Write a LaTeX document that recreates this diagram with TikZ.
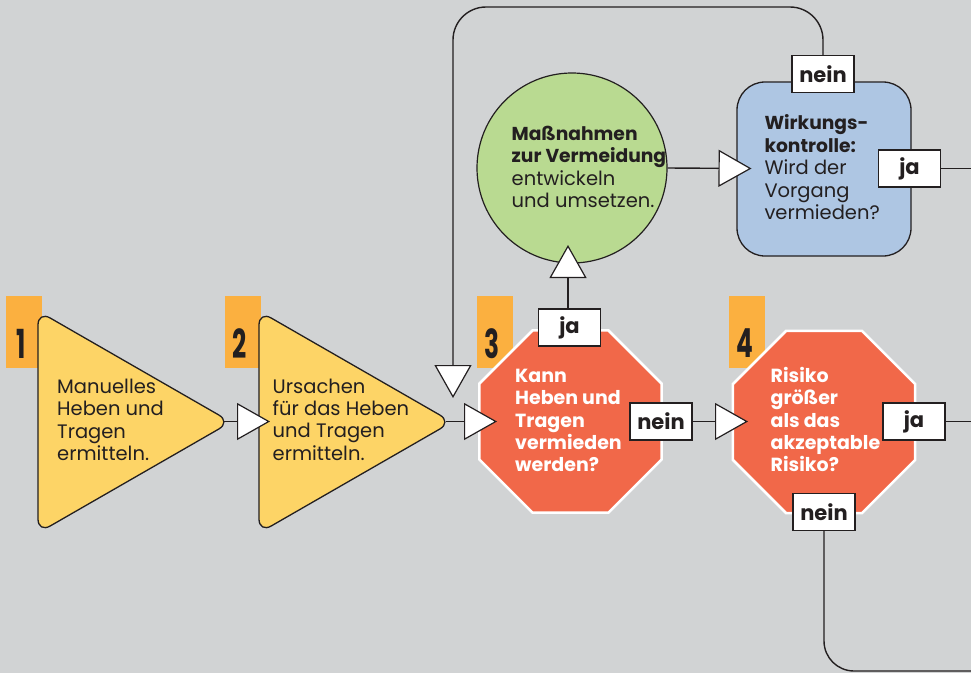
\documentclass[tikz,border=0pt]{standalone}
\usepackage{fontspec}
\usepackage{graphicx}
\setmainfont{Poppins}
\usetikzlibrary{arrows.meta,shapes.geometric}
\definecolor{bg}{HTML}{D1D3D4}
\definecolor{ink}{HTML}{231F20}
\definecolor{numorange}{HTML}{FBB040}
\definecolor{tri}{HTML}{FDD466}
\definecolor{oct}{HTML}{F16849}
\definecolor{grn}{HTML}{B9DA91}
\definecolor{blu}{HTML}{AEC6E3}
\newcommand{\bfline}[1]{{\bfseries\fontsize{18.7}{22.4}\selectfont #1}}
\begin{document}
\begin{tikzpicture}[x=1pt,y=-1pt,
  txt/.style={font=\fontsize{19.5}{22.4}\selectfont, text=ink, align=left, anchor=base west, inner sep=0pt},
  wtxt/.style={font=\bfseries\fontsize{19}{22.4}\selectfont, text=white, align=left, anchor=base west, inner sep=0pt},
  lbl/.style={draw=ink, fill=white, line width=1.3pt, minimum width=62pt, minimum height=37pt, inner sep=0pt, font=\bfseries\fontsize{21}{21}\selectfont, text=ink},
  numtxt/.style={font=\bfseries\fontsize{40}{40}\selectfont, text=ink, inner sep=0pt},
  numbox/.style={fill=numorange, minimum width=36pt, minimum height=72pt, inner sep=0pt},
  trishape/.style={fill=tri, draw=ink, line width=1.3pt, rounded corners=14pt},
  octshape/.style={regular polygon, regular polygon sides=8, minimum size=197.5pt, inner sep=0pt, fill=oct, draw=white, line width=2.5pt},
  conn/.style={draw=ink, line width=1.4pt},
  arr/.style={-{Triangle[length=33pt,width=37pt,fill=white,line width=1.2pt]}}
]
\useasboundingbox (0,0) rectangle (971,673);
\fill[bg] (0,0) rectangle (971,673);

% number boxes
\node[numbox] (n1box) at (24,332) {};
\node[numbox] (n2box) at (243,332) {};
\node[numbox] (n3box) at (495,332) {};
\node[numbox] (n4box) at (747,332) {};
\node[numtxt] (n1) at (21,343.5) {\scalebox{0.62}[1]{1}};
\node[numtxt] (n2) at (240,343.5) {\scalebox{0.62}[1]{2}};
\node[numtxt] (n3) at (492,343.5) {\scalebox{0.62}[1]{3}};
\node[numtxt] (n4) at (745,343.5) {\scalebox{0.62}[1]{4}};

% triangles
\draw[trishape] (38,422) -- (38,311) -- (231,422) -- (38,533) -- cycle;
\draw[trishape] (259,422) -- (259,311) -- (452,422) -- (259,533) -- cycle;
\coordinate (t1apex) at (224,421.5);
\coordinate (t2apex) at (446,421.5);

% octagons
\node[octshape] (o3) at (570.5,421.5) {};
\node[octshape] (o4) at (824,422) {};

% circle
\node[circle, minimum size=190pt, inner sep=0pt, fill=grn, draw=ink, line width=1.2pt] (c) at (572,168) {};

% blue box
\node[rectangle, rounded corners=28pt, minimum width=174pt, minimum height=174pt, inner sep=0pt, fill=blu, draw=ink, line width=1.3pt] (b) at (824,169) {};

% texts (anchored at the baseline of the last line)
\node[txt] (t1txt) at (57,460.7) {Manuelles\\Heben und\\Tragen\\ermitteln.};
\node[txt] (t2txt) at (272.5,460.2) {Ursachen\\für das Heben\\und Tragen\\ermitteln.};
\node[wtxt] (o3txt) at (515,471.9) {Kann\\Heben und\\Tragen\\vermieden\\werden?};
\node[wtxt] (o4txt) at (770.5,471.9) {Risiko\\größer\\als das\\akzeptable\\Risiko?};
\node[txt] (ctxt) at (511.5,207.6) {\bfline{Maßnahmen}\\\bfline{zur Vermeidung}\\entwickeln\\und umsetzen.};
\node[txt] (btxt) at (764.3,219.5) {\bfline{Wirkungs-}\\\bfline{kontrolle:}\\Wird der\\Vorgang\\vermieden?};

% coordinates
\coordinate (tip12) at (270,421.5);
\coordinate (tip23) at (497,421.5);
\coordinate (tip34) at (748,421.5);
\coordinate (tipC) at (568,245);
\coordinate (tipB) at (751.5,168.5);
\coordinate (tipLoop) at (453,398);
\coordinate (loopTL) at (453,7);
\coordinate (exitR1) at (971,421.5);
\coordinate (exitR2) at (971,168.5);
\coordinate (exitBot) at (971,671);

% labels
\node[lbl] (L3ja) at (569.5,327.5) {ja};
\node[lbl] (L3nein) at (661,421.5) {nein};
\node[lbl] (L4ja) at (914,421.5) {ja};
\node[lbl] (L4nein) at (824,512) {nein};
\node[lbl] (Lbnein) at (823,74) {nein};
\node[lbl] (Lbja) at (909.5,168.5) {ja};

% connectors
\draw[conn,arr] (t1apex) -- (tip12);
\draw[conn,arr] (t2apex) -- (tip23);
\draw[conn,arr] (L3nein.east) -- (tip34);
\draw[conn,arr] (L3ja.north -| tipC) -- (tipC);
\draw[conn,arr] (c.east) -- (tipB);
\draw[conn,arr,rounded corners=33pt] (Lbnein.north) |- (loopTL) -- (tipLoop);
\draw[conn] (L4ja.east) -- (exitR1);
\draw[conn] (Lbja.east) -- (exitR2);
\draw[conn,rounded corners=30pt] (L4nein.south) |- (exitBot);
\end{tikzpicture}
\end{document}
